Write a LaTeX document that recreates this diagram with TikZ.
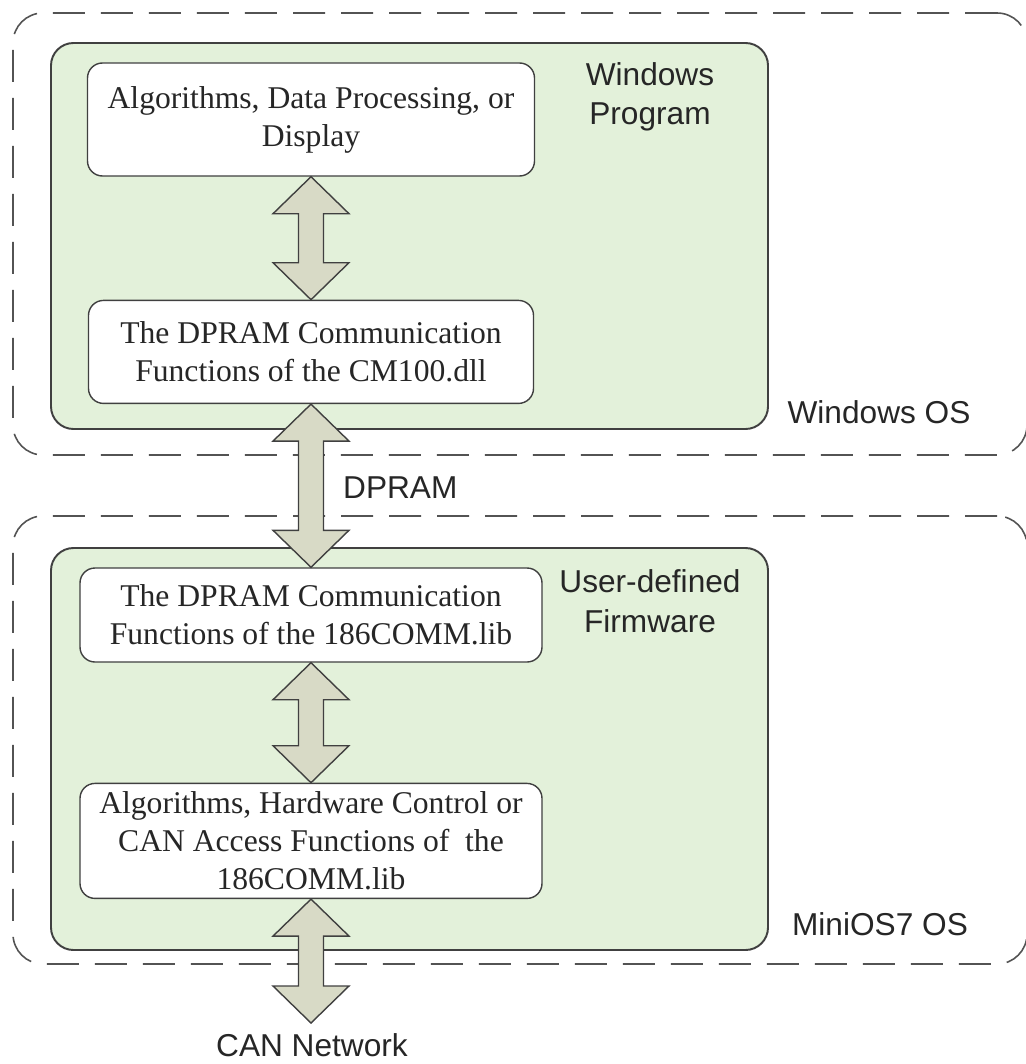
\documentclass[tikz,border=0pt]{standalone}
\usepackage{fontspec}
\setmainfont{Liberation Serif}
\setsansfont{Liberation Sans}
\usetikzlibrary{positioning,calc}
\definecolor{osgreen}{RGB}{227,241,218}
\definecolor{arrowfill}{RGB}{216,218,198}
\definecolor{edgegray}{RGB}{64,64,64}

\newcommand{\fatarrow}[2]{%
  \draw[fat] (#1)
    -- ([shift={(0.76cm,-0.74cm)}]#1) -- ([shift={(0.25cm,-0.74cm)}]#1)
    -- ([shift={(0.25cm,0.74cm)}]#2) -- ([shift={(0.76cm,0.74cm)}]#2)
    -- (#2)
    -- ([shift={(-0.76cm,0.74cm)}]#2) -- ([shift={(-0.25cm,0.74cm)}]#2)
    -- ([shift={(-0.25cm,-0.74cm)}]#1) -- ([shift={(-0.76cm,-0.74cm)}]#1)
    -- cycle;}

\begin{document}
\begin{tikzpicture}[
  osbox/.style={draw=edgegray!90,dash pattern=on 0.64cm off 0.32cm,
    line width=0.9pt,rounded corners=0.6cm},
  layer/.style={draw=edgegray,fill=osgreen,line width=1.1pt,rounded corners=0.45cm},
  fn/.style={draw=edgegray,fill=white,line width=0.8pt,rounded corners=0.3cm,
    align=center,inner sep=0pt,text=black!85,font=\fontsize{18}{21.6}\selectfont},
  lbl/.style={align=center,text=black!85,font=\sffamily\fontsize{18}{22.5}\selectfont},
  fat/.style={draw=edgegray,fill=arrowfill,line width=0.8pt,line join=miter}
]
\useasboundingbox (0,0) rectangle (20.5,-21.28);

\node[osbox,minimum width=20.28cm,minimum height=8.84cm] (winos) at (10.4,-4.68) {};
\node[osbox,minimum width=20.28cm,minimum height=8.96cm] (minios) at (10.4,-14.8) {};

\node[layer,minimum width=14.34cm,minimum height=7.72cm] (winprog) at (8.19,-4.72) {};
\node[layer,minimum width=14.34cm,minimum height=8.04cm] (firmware) at (8.19,-14.98) {};

\node[fn,minimum width=8.94cm,minimum height=2.26cm] (display) at (6.22,-2.39)
  {Algorithms, Data Processing, or\\Display};
\node[fn,minimum width=8.9cm,minimum height=2.06cm,below=2.46cm of display] (dll)
  {The DPRAM Communication\\Functions of the CM100.dll};
\node[fn,minimum width=9.24cm,minimum height=1.88cm] (lib) at (6.22,-12.3)
  {The DPRAM Communication\\Functions of the 186COMM.lib};
\node[fn,minimum width=9.24cm,minimum height=2.3cm,below=2.4cm of lib] (hw)
  {Algorithms, Hardware Control or\\CAN Access Functions of \ the\\186COMM.lib};
\coordinate (bus) at (6.22,-20.46);

\node[lbl] (progname) at (13.0,-1.94) {Windows\\Program};
\node[lbl] (winosname) at (17.58,-8.24) {Windows OS};
\node[lbl,anchor=west] (dpram) at (6.74,-9.76) {DPRAM};
\node[lbl] (fwname) at (13.0,-12.02) {User-defined\\Firmware};
\node[lbl] (miniosname) at (17.6,-18.48) {MiniOS7 OS};
\node[lbl] (canname) at (6.24,-20.9) {CAN Network};

\fatarrow{display.south}{dll.north}
\fatarrow{dll.south}{lib.north}
\fatarrow{lib.south}{hw.north}
\fatarrow{hw.south}{bus}
\end{tikzpicture}
\end{document}
